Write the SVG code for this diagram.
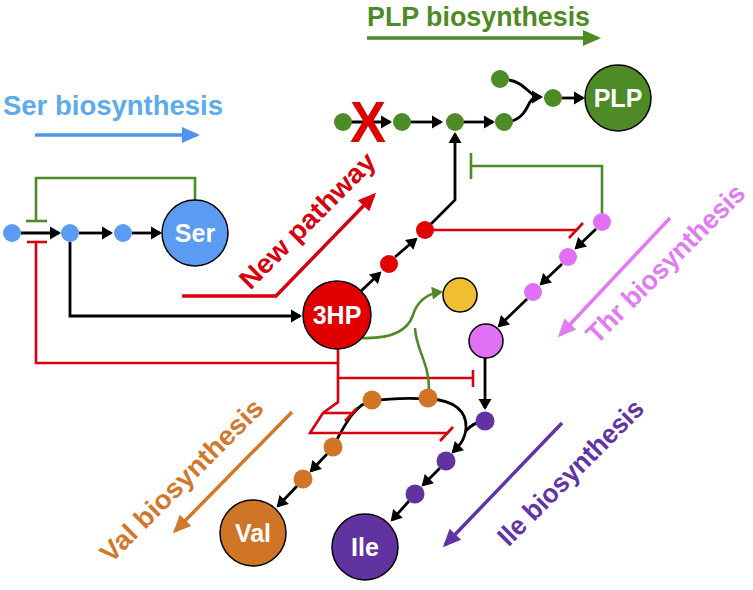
<svg xmlns="http://www.w3.org/2000/svg" width="753" height="590" viewBox="0 0 753 590">
<style>
text{font-family:"Liberation Sans",Arial,Helvetica,sans-serif;font-weight:bold}
.lbl{font-size:25px;fill:#fff;text-anchor:middle}
.ttl{font-size:27px}
.rot{font-size:27px;text-anchor:middle}
.blk{stroke:#000;stroke-width:2.8;fill:none}
.arr{marker-end:url(#ah)}
.red{stroke:#D9000D;stroke-width:2.6;fill:none}
.grn{stroke:#4E8A26;stroke-width:2.6;fill:none}
.big{stroke:#000;stroke-width:1.5}
.tarr{stroke-width:3.5;fill:none}
</style>
<defs>
<marker id="ah" markerUnits="userSpaceOnUse" markerWidth="14" markerHeight="14" refX="9" refY="6.5" orient="auto" overflow="visible"><path d="M0,0 L11,6.5 L0,13 z" fill="#000"/></marker>
<marker id="ahG" markerUnits="userSpaceOnUse" markerWidth="14" markerHeight="14" refX="9" refY="6.5" orient="auto" overflow="visible"><path d="M0,0 L11,6.5 L0,13 z" fill="#4E8A26"/></marker>
<marker id="tB" markerUnits="userSpaceOnUse" markerWidth="20" markerHeight="18" refX="15" refY="8" orient="auto" overflow="visible"><path d="M0,0 L18,8 L0,16 z" fill="#4F93EF"/></marker>
<marker id="tG" markerUnits="userSpaceOnUse" markerWidth="20" markerHeight="18" refX="15" refY="8" orient="auto" overflow="visible"><path d="M0,0 L18,8 L0,16 z" fill="#4E8A26"/></marker>
<marker id="tR" markerUnits="userSpaceOnUse" markerWidth="20" markerHeight="18" refX="15" refY="8" orient="auto" overflow="visible"><path d="M0,0 L18,8 L0,16 z" fill="#D9000D"/></marker>
<marker id="tP" markerUnits="userSpaceOnUse" markerWidth="20" markerHeight="18" refX="15" refY="8" orient="auto" overflow="visible"><path d="M0,0 L18,8 L0,16 z" fill="#E27AF2"/></marker>
<marker id="tO" markerUnits="userSpaceOnUse" markerWidth="20" markerHeight="18" refX="15" refY="8" orient="auto" overflow="visible"><path d="M0,0 L18,8 L0,16 z" fill="#D2782A"/></marker>
<marker id="tV" markerUnits="userSpaceOnUse" markerWidth="20" markerHeight="18" refX="15" refY="8" orient="auto" overflow="visible"><path d="M0,0 L18,8 L0,16 z" fill="#6034A2"/></marker>
</defs>

<g id="titles">
<text class="ttl" x="3" y="115" fill="#5DAAEC" textLength="220" lengthAdjust="spacingAndGlyphs">Ser biosynthesis</text>
<path class="tarr" stroke="#4F93EF" d="M35,135 L197,135" marker-end="url(#tB)"/>
<text class="ttl" x="367" y="26" fill="#4E8A26" textLength="223" lengthAdjust="spacingAndGlyphs">PLP biosynthesis</text>
<path class="tarr" stroke="#4E8A26" d="M367,38 L598,38" marker-end="url(#tG)"/>
<text class="rot" transform="translate(314,227) rotate(-45)" fill="#D9000D" textLength="180" lengthAdjust="spacingAndGlyphs">New pathway</text>
<path class="tarr" stroke="#D9000D" d="M182,296 L276,296 L374,195" marker-end="url(#tR)"/>
<text class="rot" transform="translate(672,270) rotate(-45)" fill="#E27AF2" textLength="212" lengthAdjust="spacingAndGlyphs">Thr biosynthesis</text>
<path class="tarr" stroke="#E27AF2" d="M670,218 L560,335" marker-end="url(#tP)"/>
<text class="rot" transform="translate(188,487) rotate(-45)" fill="#D2782A" textLength="218" lengthAdjust="spacingAndGlyphs">Val biosynthesis</text>
<path class="tarr" stroke="#D2782A" d="M292,412 L175,531" marker-end="url(#tO)"/>
<text class="rot" transform="translate(577,479) rotate(-45)" fill="#6034A2" textLength="194" lengthAdjust="spacingAndGlyphs">Ile biosynthesis</text>
<path class="tarr" stroke="#6034A2" d="M562,423 L445,545" marker-end="url(#tV)"/>
</g>

<g id="connectors">
<!-- Ser pathway -->
<path class="blk arr" d="M21,233 L59,233"/>
<path class="blk arr" d="M79,233 L111,233"/>
<path class="blk arr" d="M132,233 L160,233"/>
<path class="blk arr" d="M70,242 L70,316 L300,316"/>
<!-- new pathway chain -->
<path class="blk arr" d="M360,292 L380,273"/>
<path class="blk arr" d="M395,257 L416,239"/>
<path class="blk arr" d="M425,230 L455,200 L455,134"/>
<!-- PLP chain -->
<path class="blk arr" d="M350,122 L390,122"/>
<path class="blk arr" d="M409,122 L441,122"/>
<path class="blk arr" d="M463,122 L493,122"/>
<path class="blk" d="M509,80 C522,82 528,92 536,97"/>
<path class="blk" d="M512,121 C522,118 526,110 530,102 C532,99 534,97 537,97"/>
<path class="blk arr" d="M533,97 L541,97"/>
<path class="blk arr" d="M562,98 L583,98"/>
<!-- Thr chain -->
<path class="blk arr" d="M596,229 L576,248"/>
<path class="blk arr" d="M562,264 L541,284"/>
<path class="blk arr" d="M527,299 L499,326"/>
<path class="blk arr" d="M485,358 L485,408"/>
<!-- Val / Ile -->
<path class="blk arr" d="M333,447 C343,428 355,403 372,401 C392,398 410,398 429,399 C455,400 467,412 466,428 C465,440 459,446 453,452"/>
<path class="blk" d="M485,421 C476,422 470,426 466,431"/>
<path class="blk arr" d="M440,468 L423,485"/>
<path class="blk arr" d="M409,501 L392,520"/>
<path class="blk arr" d="M327,454 L311,471"/>
<path class="blk arr" d="M297,486 L278,506"/>
<!-- red inhibitions -->
<path class="red" d="M27,242 L47,242"/>
<path class="red" d="M36,242 L36,363 L338,363"/>
<path class="red" d="M338,349 L338,402 L323,413 L310,433 L447,433"/>
<path class="red" d="M323,413 L351,413"/>
<path class="red" d="M345,421 L357,408"/>
<path class="red" d="M440,441 L453,427"/>
<path class="red" d="M338,378 L473,378"/>
<path class="red" d="M473,370 L473,387"/>
<path class="red" d="M425,230 L576,230"/>
<path class="red" d="M569,238 L583,223"/>
<!-- green -->
<path class="grn" d="M195,200 L195,178 L36,178 L36,221"/>
<path class="grn" d="M26,221 L47,221"/>
<path class="grn" d="M602,222 L602,166 L471,166"/>
<path class="grn" d="M471,153 L471,179"/>
<path class="grn" d="M362,338 C392,339 408,330 413,315 C417,302 425,294 441,292" marker-end="url(#ahG)"/>
<path class="grn" d="M429,389 C429,362 416,350 415,328"/>
</g>

<g id="ser-nodes" fill="#5B9BF2">
<circle id="s1" cx="12" cy="233" r="9"/>
<circle id="s2" cx="70" cy="233" r="9"/>
<circle id="s3" cx="123" cy="233" r="9"/>
</g>
<g id="Ser"><circle class="big" cx="195" cy="233" r="33" fill="#5B9BF2"/><text class="lbl" x="195" y="242">Ser</text></g>

<g id="plp-nodes" fill="#4E8A26">
<circle cx="343" cy="122" r="9"/>
<circle cx="402" cy="122" r="9"/>
<circle cx="455" cy="122" r="9"/>
<circle cx="504" cy="122" r="9"/>
<circle cx="500" cy="79" r="9"/>
<circle cx="553" cy="98" r="9"/>
</g>
<g id="block"><text x="368" y="142" font-size="58" fill="#E00000" text-anchor="middle" textLength="36" lengthAdjust="spacingAndGlyphs">X</text></g>
<g id="PLP"><circle class="big" cx="618" cy="98" r="33" fill="#4E8A26"/><text class="lbl" x="618" y="107">PLP</text></g>

<g id="new-nodes" fill="#E00000">
<circle cx="389" cy="264" r="9"/>
<circle cx="425" cy="230" r="9"/>
</g>
<g id="HP3"><circle class="big" cx="337" cy="315" r="34" fill="#E00000"/><text class="lbl" x="337" y="324">3HP</text></g>
<g id="yellow"><circle class="big" cx="460" cy="295" r="17" fill="#F0BE32"/></g>

<g id="thr-nodes" fill="#E070F5">
<circle cx="602" cy="222" r="9"/>
<circle cx="568" cy="257" r="9"/>
<circle cx="533" cy="292" r="9"/>
</g>
<g id="Thr"><circle class="big" cx="486" cy="341" r="17" fill="#E070F5"/></g>

<g id="val-nodes" fill="#D07426">
<circle cx="372" cy="400" r="9.5"/>
<circle cx="428" cy="398" r="9.5"/>
<circle cx="333" cy="447" r="9.5"/>
<circle cx="303" cy="479" r="9.5"/>
</g>
<g id="Val"><circle class="big" cx="253" cy="533" r="33" fill="#D07426"/><text class="lbl" x="253" y="542">Val</text></g>

<g id="ile-nodes" fill="#6133A1">
<circle cx="485" cy="421" r="9.5"/>
<circle cx="446" cy="461" r="9.5"/>
<circle cx="415" cy="494" r="9.5"/>
</g>
<g id="Ile"><circle class="big" cx="365" cy="547" r="33" fill="#6133A1"/><text class="lbl" x="365" y="556">Ile</text></g>
</svg>
